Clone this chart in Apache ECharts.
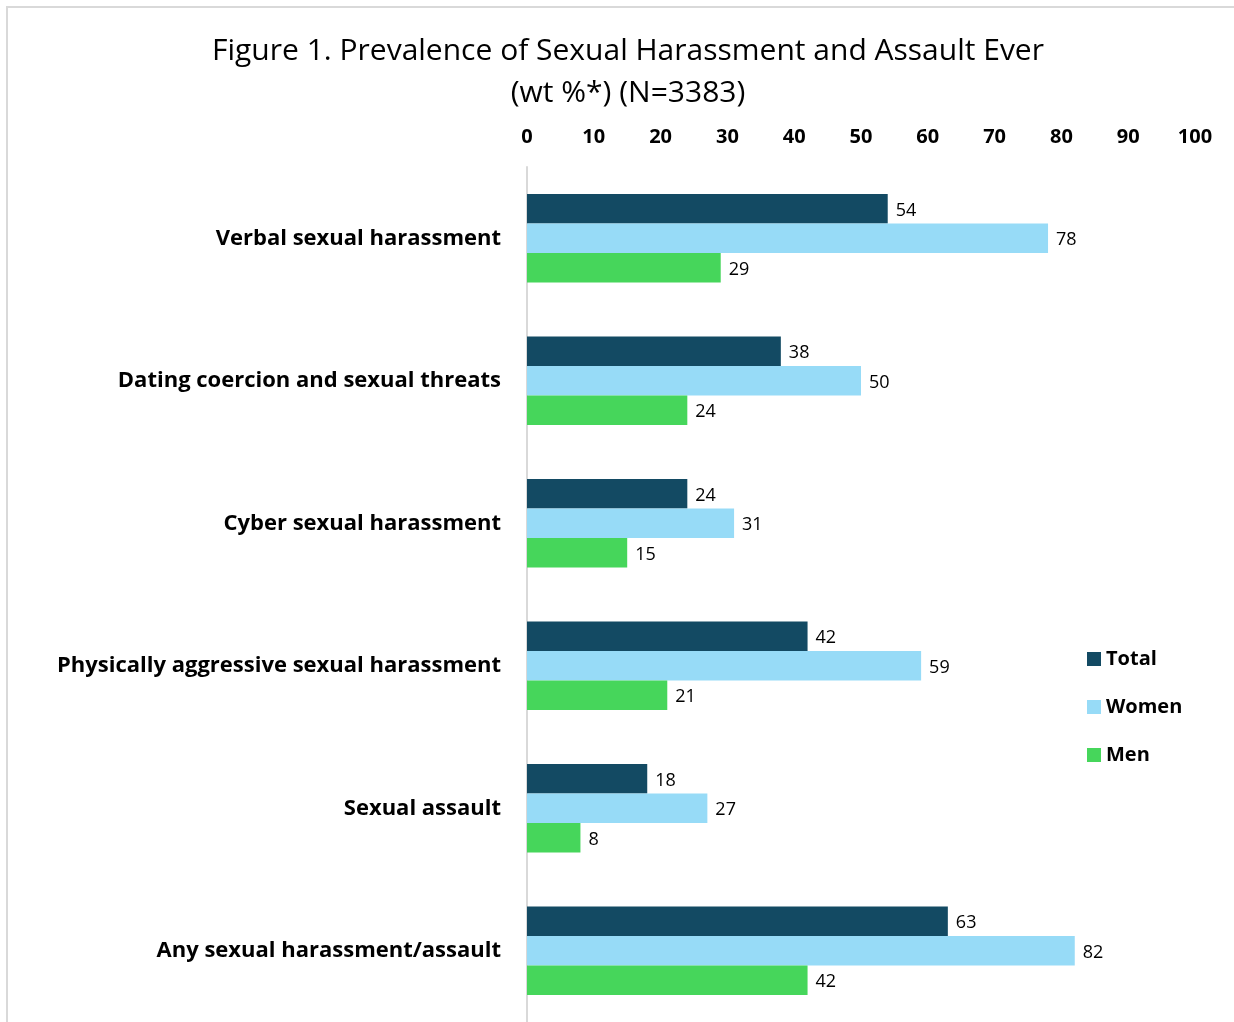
<!DOCTYPE html>
<html>
<head>
<meta charset="utf-8">
<script src="https://cdn.jsdelivr.net/npm/echarts@6/dist/echarts.min.js"></script>
<style>html,body{margin:0;padding:0;background:#fff;}#c{width:1234px;height:1022px;}</style>
</head>
<body>
<div id="c"></div>
<script>
const categories = [
  'Verbal sexual harassment',
  'Dating coercion and sexual threats',
  'Cyber sexual harassment',
  'Physically aggressive sexual harassment',
  'Sexual assault',
  'Any sexual harassment/assault'
];
const totalValues = [54, 38, 24, 42, 18, 63];
const womenValues = [78, 50, 31, 59, 27, 82];
const menValues = [29, 24, 15, 21, 8, 42];
const seriesNames = ['Total', 'Women', 'Men'];
const colors = ['#134a63', '#97dbf7', '#46d65b'];

const FONT = '"Open Sans", sans-serif';
const chart = echarts.init(document.getElementById('c'), null, {renderer: 'canvas'});
const labelCfg = {show: true, position: 'right', distance: 8, offset: [0, 2], color: '#000', fontSize: 18, fontFamily: FONT};
function mk(name, data, color) {
  return {name, type: 'bar', data, barGap: '0%', barCategoryGap: '38%',
    itemStyle: {color}, label: labelCfg};
}
chart.setOption({
  animation: false,
  textStyle: {fontFamily: FONT},
  graphic: [{type: 'rect', shape: {x: 7, y: 7, width: 1400, height: 1200},
    style: {fill: 'none', stroke: '#d9d9d9', lineWidth: 2}, silent: true}],
  title: {
    text: 'Figure 1. Prevalence of Sexual Harassment and Assault Ever\n(wt %*) (N=3383)',
    left: 623, top: 25, textAlign: 'center',
    textStyle: {fontFamily: FONT, fontWeight: 'normal', fontSize: 30, color: '#000', lineHeight: 42}
  },
  legend: {
    orient: 'vertical', left: 1082, top: 644, itemWidth: 14, itemHeight: 14, itemGap: 28,
    icon: 'rect', data: seriesNames,
    textStyle: {fontFamily: FONT, fontWeight: 'bold', fontSize: 20, color: '#000'}
  },
  grid: {left: 527, right: 39, top: 167, height: 858, containLabel: false},
  xAxis: {
    type: 'value', position: 'top', min: 0, max: 100, interval: 10,
    axisLine: {show: false}, axisTick: {show: false}, splitLine: {show: false},
    axisLabel: {fontFamily: FONT, fontWeight: 'bold', fontSize: 20, color: '#000', margin: 20}
  },
  yAxis: {
    type: 'category', data: categories, inverse: true,
    axisLine: {show: true, lineStyle: {color: '#d9d9d9', width: 2}},
    axisTick: {show: false},
    axisLabel: {fontFamily: FONT, fontWeight: 'bold', fontSize: 22, color: '#000', margin: 26, padding: [4, 0, 0, 0]}
  },
  series: [
    mk(seriesNames[0], totalValues, colors[0]),
    mk(seriesNames[1], womenValues, colors[1]),
    mk(seriesNames[2], menValues, colors[2])
  ]
});
</script>
</body>
</html>
